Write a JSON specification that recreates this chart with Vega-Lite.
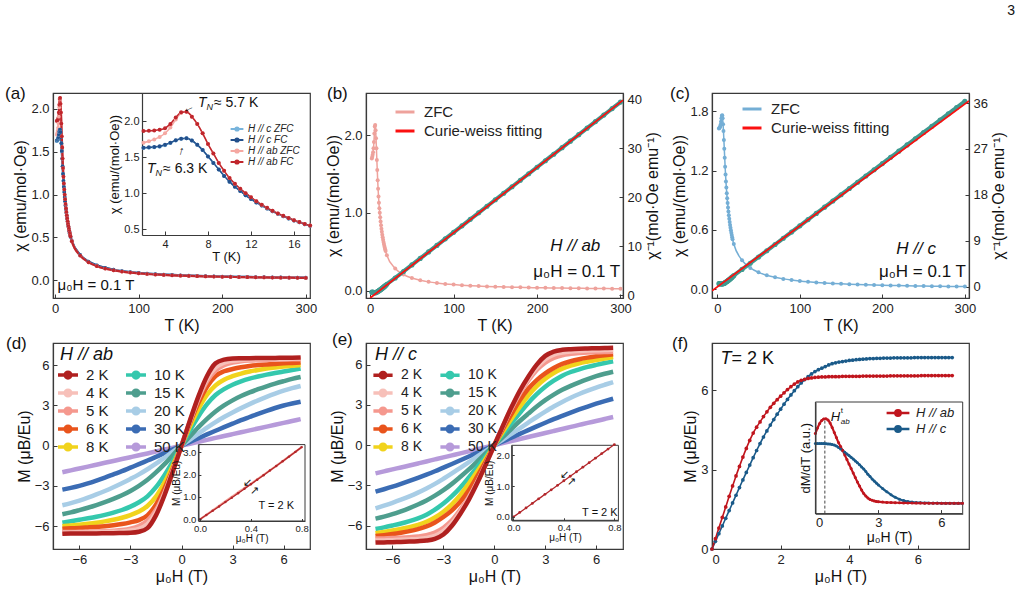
{
  "$schema": "https://vega.github.io/schema/vega-lite/v6.json",
  "background": "white",
  "padding": {"left": 4, "top": 4, "right": 4, "bottom": 2},
  "title": {"text": "3", "anchor": "end", "fontSize": 14, "fontWeight": "normal", "offset": 66, "dx": 8},
  "config": {
    "font": "Liberation Sans",
    "view": {"stroke": "#3a3a3a", "strokeWidth": 1.2},
    "axis": {"grid": false, "domainColor": "#3a3a3a", "domainWidth": 1.2, "tickColor": "#3a3a3a", "tickSize": -4, "labelFontSize": 13, "labelColor": "#222", "titleFontSize": 16, "titleFontWeight": "normal", "titleColor": "#111", "labelPadding": 8, "titlePadding": 2},
    "legend": {"labelColor": "#222", "titleFontWeight": "normal"},
    "title": {"fontSize": 17, "fontWeight": "normal", "color": "#111"},
    "text": {"color": "#111"},
    "line": {"interpolate": "monotone"}
  },
  "datasets": {
    "chi": [
      {"T": 2, "H // ab ZFC": 1.70, "H // ab FC": 1.86, "H // c ZFC": 1.625, "H // c FC": 1.63, "abInv": 0.588, "cInv": 0.615},
      {"T": 2.5, "H // ab ZFC": 1.72, "H // ab FC": 1.865, "H // c ZFC": 1.63, "H // c FC": 1.635, "abInv": 0.581, "cInv": 0.613},
      {"T": 3, "H // ab ZFC": 1.745, "H // ab FC": 1.87, "H // c ZFC": 1.635, "H // c FC": 1.64, "abInv": 0.573, "cInv": 0.612},
      {"T": 3.5, "H // ab ZFC": 1.78, "H // ab FC": 1.88, "H // c ZFC": 1.645, "H // c FC": 1.65, "abInv": 0.562, "cInv": 0.608},
      {"T": 4, "H // ab ZFC": 1.83, "H // ab FC": 1.90, "H // c ZFC": 1.665, "H // c FC": 1.67, "abInv": 0.546, "cInv": 0.601},
      {"T": 4.5, "H // ab ZFC": 1.91, "H // ab FC": 1.96, "H // c ZFC": 1.695, "H // c FC": 1.70, "abInv": 0.524, "cInv": 0.590},
      {"T": 5, "H // ab ZFC": 2.02, "H // ab FC": 2.05, "H // c ZFC": 1.73, "H // c FC": 1.735, "abInv": 0.495, "cInv": 0.578},
      {"T": 5.5, "H // ab ZFC": 2.11, "H // ab FC": 2.12, "H // c ZFC": 1.755, "H // c FC": 1.755, "abInv": 0.474, "cInv": 0.570},
      {"T": 6, "H // ab ZFC": 2.13, "H // ab FC": 2.13, "H // c ZFC": 1.76, "H // c FC": 1.76, "abInv": 0.469, "cInv": 0.568},
      {"T": 6.5, "H // ab ZFC": 2.06, "H // ab FC": 2.06, "H // c ZFC": 1.73, "H // c FC": 1.73, "abInv": 0.485, "cInv": 0.578},
      {"T": 7, "H // ab ZFC": 1.96, "H // ab FC": 1.96, "H // c ZFC": 1.67, "H // c FC": 1.67, "abInv": 0.510, "cInv": 0.599},
      {"T": 7.5, "H // ab ZFC": 1.83, "H // ab FC": 1.83, "H // c ZFC": 1.60, "H // c FC": 1.60, "abInv": 0.546, "cInv": 0.625},
      {"T": 8, "H // ab ZFC": 1.68, "H // ab FC": 1.68, "H // c ZFC": 1.51, "H // c FC": 1.51, "abInv": 0.595, "cInv": 0.662},
      {"T": 8.5, "H // ab ZFC": 1.55, "H // ab FC": 1.55, "H // c ZFC": 1.42, "H // c FC": 1.42, "abInv": 0.645, "cInv": 0.704},
      {"T": 9, "H // ab ZFC": 1.42, "H // ab FC": 1.42, "H // c ZFC": 1.33, "H // c FC": 1.33, "abInv": 0.704, "cInv": 0.752},
      {"T": 9.5, "H // ab ZFC": 1.31, "H // ab FC": 1.31, "H // c ZFC": 1.24, "H // c FC": 1.24, "abInv": 0.763, "cInv": 0.806},
      {"T": 10, "H // ab ZFC": 1.21, "H // ab FC": 1.21, "H // c ZFC": 1.16, "H // c FC": 1.16, "abInv": 0.826, "cInv": 0.862},
      {"T": 10.5, "H // ab ZFC": 1.13, "H // ab FC": 1.13, "H // c ZFC": 1.09, "H // c FC": 1.09, "abInv": 0.885, "cInv": 0.917},
      {"T": 11, "H // ab ZFC": 1.06, "H // ab FC": 1.06, "H // c ZFC": 1.03, "H // c FC": 1.03, "abInv": 0.943, "cInv": 0.971},
      {"T": 11.5, "H // ab ZFC": 1.00, "H // ab FC": 1.00, "H // c ZFC": 0.97, "H // c FC": 0.97, "abInv": 1.000, "cInv": 1.031},
      {"T": 12, "H // ab ZFC": 0.945, "H // ab FC": 0.945, "H // c ZFC": 0.92, "H // c FC": 0.92, "abInv": 1.058, "cInv": 1.087},
      {"T": 12.5, "H // ab ZFC": 0.89, "H // ab FC": 0.89, "H // c ZFC": 0.872, "H // c FC": 0.872, "abInv": 1.124, "cInv": 1.147},
      {"T": 13, "H // ab ZFC": 0.84, "H // ab FC": 0.84, "H // c ZFC": 0.828, "H // c FC": 0.828, "abInv": 1.190, "cInv": 1.208},
      {"T": 13.5, "H // ab ZFC": 0.797, "H // ab FC": 0.797, "H // c ZFC": 0.787, "H // c FC": 0.787, "abInv": 1.255, "cInv": 1.271},
      {"T": 14, "H // ab ZFC": 0.757, "H // ab FC": 0.757, "H // c ZFC": 0.749, "H // c FC": 0.749, "abInv": 1.321, "cInv": 1.335},
      {"T": 14.5, "H // ab ZFC": 0.72, "H // ab FC": 0.72, "H // c ZFC": 0.714, "H // c FC": 0.714, "abInv": 1.389, "cInv": 1.401},
      {"T": 15, "H // ab ZFC": 0.687, "H // ab FC": 0.687, "H // c ZFC": 0.681, "H // c FC": 0.681, "abInv": 1.456, "cInv": 1.468},
      {"T": 15.5, "H // ab ZFC": 0.656, "H // ab FC": 0.656, "H // c ZFC": 0.651, "H // c FC": 0.651, "abInv": 1.524, "cInv": 1.536},
      {"T": 16, "H // ab ZFC": 0.627, "H // ab FC": 0.627, "H // c ZFC": 0.622, "H // c FC": 0.622, "abInv": 1.595, "cInv": 1.608},
      {"T": 16.5, "H // ab ZFC": 0.60, "H // ab FC": 0.60, "H // c ZFC": 0.596, "H // c FC": 0.596, "abInv": 1.667, "cInv": 1.678},
      {"T": 17, "H // ab ZFC": 0.575, "H // ab FC": 0.575, "H // c ZFC": 0.571, "H // c FC": 0.571, "abInv": 1.739, "cInv": 1.751},
      {"T": 17.5, "H // ab ZFC": 0.552, "H // ab FC": 0.552, "H // c ZFC": 0.548, "H // c FC": 0.548, "abInv": 1.812, "cInv": 1.825},
      {"T": 18, "H // ab ZFC": 0.53, "H // ab FC": 0.53, "H // c ZFC": 0.527, "H // c FC": 0.527, "abInv": 1.887, "cInv": 1.898},
      {"T": 18.5, "H // ab ZFC": 0.51, "H // ab FC": 0.51, "H // c ZFC": 0.507, "H // c FC": 0.507, "abInv": 1.961, "cInv": 1.972},
      {"T": 20, "H // ab ZFC": 0.455, "H // ab FC": 0.455, "H // c ZFC": 0.458, "H // c FC": 0.458, "abInv": 2.198, "cInv": 2.183},
      {"T": 30, "H // ab ZFC": 0.2863, "H // ab FC": 0.2863, "H // c ZFC": 0.2939, "H // c FC": 0.2939, "abInv": 3.493, "cInv": 3.402},
      {"T": 40, "H // ab ZFC": 0.2072, "H // ab FC": 0.2072, "H // c ZFC": 0.2164, "H // c FC": 0.2164, "abInv": 4.827, "cInv": 4.622},
      {"T": 50, "H // ab ZFC": 0.1623, "H // ab FC": 0.1623, "H // c ZFC": 0.1712, "H // c FC": 0.1712, "abInv": 6.160, "cInv": 5.841},
      {"T": 60, "H // ab ZFC": 0.1335, "H // ab FC": 0.1335, "H // c ZFC": 0.1416, "H // c FC": 0.1416, "abInv": 7.493, "cInv": 7.061},
      {"T": 70, "H // ab ZFC": 0.1133, "H // ab FC": 0.1133, "H // c ZFC": 0.1208, "H // c FC": 0.1208, "abInv": 8.827, "cInv": 8.280},
      {"T": 80, "H // ab ZFC": 0.0984, "H // ab FC": 0.0984, "H // c ZFC": 0.1053, "H // c FC": 0.1053, "abInv": 10.160, "cInv": 9.500},
      {"T": 90, "H // ab ZFC": 0.0870, "H // ab FC": 0.0870, "H // c ZFC": 0.0933, "H // c FC": 0.0933, "abInv": 11.493, "cInv": 10.720},
      {"T": 100, "H // ab ZFC": 0.0780, "H // ab FC": 0.0780, "H // c ZFC": 0.0838, "H // c FC": 0.0838, "abInv": 12.827, "cInv": 11.939},
      {"T": 110, "H // ab ZFC": 0.0706, "H // ab FC": 0.0706, "H // c ZFC": 0.0760, "H // c FC": 0.0760, "abInv": 14.160, "cInv": 13.159},
      {"T": 120, "H // ab ZFC": 0.0645, "H // ab FC": 0.0645, "H // c ZFC": 0.0696, "H // c FC": 0.0696, "abInv": 15.493, "cInv": 14.378},
      {"T": 130, "H // ab ZFC": 0.0594, "H // ab FC": 0.0594, "H // c ZFC": 0.0641, "H // c FC": 0.0641, "abInv": 16.827, "cInv": 15.598},
      {"T": 140, "H // ab ZFC": 0.0551, "H // ab FC": 0.0551, "H // c ZFC": 0.0595, "H // c FC": 0.0595, "abInv": 18.160, "cInv": 16.817},
      {"T": 150, "H // ab ZFC": 0.0513, "H // ab FC": 0.0513, "H // c ZFC": 0.0554, "H // c FC": 0.0554, "abInv": 19.493, "cInv": 18.037},
      {"T": 160, "H // ab ZFC": 0.0480, "H // ab FC": 0.0480, "H // c ZFC": 0.0519, "H // c FC": 0.0519, "abInv": 20.827, "cInv": 19.256},
      {"T": 170, "H // ab ZFC": 0.0451, "H // ab FC": 0.0451, "H // c ZFC": 0.0488, "H // c FC": 0.0488, "abInv": 22.160, "cInv": 20.476},
      {"T": 180, "H // ab ZFC": 0.0426, "H // ab FC": 0.0426, "H // c ZFC": 0.0461, "H // c FC": 0.0461, "abInv": 23.493, "cInv": 21.695},
      {"T": 190, "H // ab ZFC": 0.0403, "H // ab FC": 0.0403, "H // c ZFC": 0.0436, "H // c FC": 0.0436, "abInv": 24.827, "cInv": 22.915},
      {"T": 200, "H // ab ZFC": 0.0382, "H // ab FC": 0.0382, "H // c ZFC": 0.0414, "H // c FC": 0.0414, "abInv": 26.160, "cInv": 24.134},
      {"T": 210, "H // ab ZFC": 0.0364, "H // ab FC": 0.0364, "H // c ZFC": 0.0394, "H // c FC": 0.0394, "abInv": 27.493, "cInv": 25.354},
      {"T": 220, "H // ab ZFC": 0.0347, "H // ab FC": 0.0347, "H // c ZFC": 0.0376, "H // c FC": 0.0376, "abInv": 28.827, "cInv": 26.573},
      {"T": 230, "H // ab ZFC": 0.0332, "H // ab FC": 0.0332, "H // c ZFC": 0.0360, "H // c FC": 0.0360, "abInv": 30.160, "cInv": 27.793},
      {"T": 240, "H // ab ZFC": 0.0318, "H // ab FC": 0.0318, "H // c ZFC": 0.0345, "H // c FC": 0.0345, "abInv": 31.493, "cInv": 29.012},
      {"T": 250, "H // ab ZFC": 0.0305, "H // ab FC": 0.0305, "H // c ZFC": 0.0331, "H // c FC": 0.0331, "abInv": 32.827, "cInv": 30.232},
      {"T": 260, "H // ab ZFC": 0.0293, "H // ab FC": 0.0293, "H // c ZFC": 0.0318, "H // c FC": 0.0318, "abInv": 34.160, "cInv": 31.451},
      {"T": 270, "H // ab ZFC": 0.0282, "H // ab FC": 0.0282, "H // c ZFC": 0.0306, "H // c FC": 0.0306, "abInv": 35.493, "cInv": 32.671},
      {"T": 280, "H // ab ZFC": 0.0272, "H // ab FC": 0.0272, "H // c ZFC": 0.0295, "H // c FC": 0.0295, "abInv": 36.827, "cInv": 33.890},
      {"T": 290, "H // ab ZFC": 0.0262, "H // ab FC": 0.0262, "H // c ZFC": 0.0285, "H // c FC": 0.0285, "abInv": 38.160, "cInv": 35.110},
      {"T": 300, "H // ab ZFC": 0.0253, "H // ab FC": 0.0253, "H // c ZFC": 0.0275, "H // c FC": 0.0275, "abInv": 39.493, "cInv": 36.329}
    ],
    "fitb": [{"T": 0, "abInv": -0.61}, {"T": 303, "abInv": 39.9}],
    "fitc": [{"T": -6.4, "cInv": -0.78}, {"T": 305, "cInv": 36.4}],
    "md": [
      {"H": -7, "2 K": -6.57, "4 K": -6.5, "5 K": -6.45, "6 K": -6.2, "8 K": -6.01, "10 K": -5.75, "15 K": -5.12, "20 K": -4.45, "30 K": -3.28, "50 K": -1.98},
      {"H": -6.5, "2 K": -6.56, "4 K": -6.49, "5 K": -6.44, "6 K": -6.17, "8 K": -5.96, "10 K": -5.64, "15 K": -4.98, "20 K": -4.29, "30 K": -3.15, "50 K": -1.84},
      {"H": -6, "2 K": -6.56, "4 K": -6.48, "5 K": -6.43, "6 K": -6.14, "8 K": -5.9, "10 K": -5.53, "15 K": -4.81, "20 K": -4.1, "30 K": -3.0, "50 K": -1.7},
      {"H": -5.5, "2 K": -6.55, "4 K": -6.47, "5 K": -6.42, "6 K": -6.1, "8 K": -5.83, "10 K": -5.42, "15 K": -4.63, "20 K": -3.88, "30 K": -2.81, "50 K": -1.56},
      {"H": -5, "2 K": -6.55, "4 K": -6.46, "5 K": -6.4, "6 K": -6.06, "8 K": -5.75, "10 K": -5.3, "15 K": -4.43, "20 K": -3.64, "30 K": -2.6, "50 K": -1.42},
      {"H": -4.5, "2 K": -6.54, "4 K": -6.45, "5 K": -6.38, "6 K": -6.01, "8 K": -5.65, "10 K": -5.16, "15 K": -4.21, "20 K": -3.38, "30 K": -2.38, "50 K": -1.28},
      {"H": -4, "2 K": -6.53, "4 K": -6.43, "5 K": -6.35, "6 K": -5.94, "8 K": -5.53, "10 K": -5.0, "15 K": -3.97, "20 K": -3.1, "30 K": -2.14, "50 K": -1.14},
      {"H": -3.5, "2 K": -6.52, "4 K": -6.4, "5 K": -6.3, "6 K": -5.85, "8 K": -5.38, "10 K": -4.8, "15 K": -3.7, "20 K": -2.8, "30 K": -1.9, "50 K": -1.0},
      {"H": -3, "2 K": -6.5, "4 K": -6.33, "5 K": -6.2, "6 K": -5.72, "8 K": -5.18, "10 K": -4.55, "15 K": -3.38, "20 K": -2.48, "30 K": -1.64, "50 K": -0.86},
      {"H": -2.5, "2 K": -6.42, "4 K": -6.2, "5 K": -6.0, "6 K": -5.55, "8 K": -4.92, "10 K": -4.22, "15 K": -3.0, "20 K": -2.14, "30 K": -1.38, "50 K": -0.72},
      {"H": -2, "2 K": -6.15, "4 K": -5.85, "5 K": -5.6, "6 K": -5.2, "8 K": -4.5, "10 K": -3.78, "15 K": -2.55, "20 K": -1.76, "30 K": -1.11, "50 K": -0.58},
      {"H": -1.5, "2 K": -5.2, "4 K": -5.0, "5 K": -4.8, "6 K": -4.4, "8 K": -3.8, "10 K": -3.1, "15 K": -2.0, "20 K": -1.34, "30 K": -0.84, "50 K": -0.435},
      {"H": -1, "2 K": -3.7, "4 K": -3.6, "5 K": -3.5, "6 K": -3.2, "8 K": -2.75, "10 K": -2.2, "15 K": -1.38, "20 K": -0.9, "30 K": -0.56, "50 K": -0.29},
      {"H": -0.5, "2 K": -1.9, "4 K": -1.85, "5 K": -1.82, "6 K": -1.7, "8 K": -1.45, "10 K": -1.15, "15 K": -0.7, "20 K": -0.45, "30 K": -0.28, "50 K": -0.145},
      {"H": 0, "2 K": 0, "4 K": 0, "5 K": 0, "6 K": 0, "8 K": 0, "10 K": 0, "15 K": 0, "20 K": 0, "30 K": 0, "50 K": 0},
      {"H": 0.5, "2 K": 1.9, "4 K": 1.85, "5 K": 1.82, "6 K": 1.7, "8 K": 1.45, "10 K": 1.15, "15 K": 0.7, "20 K": 0.45, "30 K": 0.28, "50 K": 0.145},
      {"H": 1, "2 K": 3.7, "4 K": 3.6, "5 K": 3.5, "6 K": 3.2, "8 K": 2.75, "10 K": 2.2, "15 K": 1.38, "20 K": 0.9, "30 K": 0.56, "50 K": 0.29},
      {"H": 1.5, "2 K": 5.2, "4 K": 5.0, "5 K": 4.8, "6 K": 4.4, "8 K": 3.8, "10 K": 3.1, "15 K": 2.0, "20 K": 1.34, "30 K": 0.84, "50 K": 0.435},
      {"H": 2, "2 K": 6.15, "4 K": 5.85, "5 K": 5.6, "6 K": 5.2, "8 K": 4.5, "10 K": 3.78, "15 K": 2.55, "20 K": 1.76, "30 K": 1.11, "50 K": 0.58},
      {"H": 2.5, "2 K": 6.42, "4 K": 6.2, "5 K": 6.0, "6 K": 5.55, "8 K": 4.92, "10 K": 4.22, "15 K": 3.0, "20 K": 2.14, "30 K": 1.38, "50 K": 0.72},
      {"H": 3, "2 K": 6.5, "4 K": 6.33, "5 K": 6.2, "6 K": 5.72, "8 K": 5.18, "10 K": 4.55, "15 K": 3.38, "20 K": 2.48, "30 K": 1.64, "50 K": 0.86},
      {"H": 3.5, "2 K": 6.52, "4 K": 6.4, "5 K": 6.3, "6 K": 5.85, "8 K": 5.38, "10 K": 4.8, "15 K": 3.7, "20 K": 2.8, "30 K": 1.9, "50 K": 1.0},
      {"H": 4, "2 K": 6.53, "4 K": 6.43, "5 K": 6.35, "6 K": 5.94, "8 K": 5.53, "10 K": 5.0, "15 K": 3.97, "20 K": 3.1, "30 K": 2.14, "50 K": 1.14},
      {"H": 4.5, "2 K": 6.54, "4 K": 6.45, "5 K": 6.38, "6 K": 6.01, "8 K": 5.65, "10 K": 5.16, "15 K": 4.21, "20 K": 3.38, "30 K": 2.38, "50 K": 1.28},
      {"H": 5, "2 K": 6.55, "4 K": 6.46, "5 K": 6.4, "6 K": 6.06, "8 K": 5.75, "10 K": 5.3, "15 K": 4.43, "20 K": 3.64, "30 K": 2.6, "50 K": 1.42},
      {"H": 5.5, "2 K": 6.55, "4 K": 6.47, "5 K": 6.42, "6 K": 6.1, "8 K": 5.83, "10 K": 5.42, "15 K": 4.63, "20 K": 3.88, "30 K": 2.81, "50 K": 1.56},
      {"H": 6, "2 K": 6.56, "4 K": 6.48, "5 K": 6.43, "6 K": 6.14, "8 K": 5.9, "10 K": 5.53, "15 K": 4.81, "20 K": 4.1, "30 K": 3.0, "50 K": 1.7},
      {"H": 6.5, "2 K": 6.56, "4 K": 6.49, "5 K": 6.44, "6 K": 6.17, "8 K": 5.96, "10 K": 5.64, "15 K": 4.98, "20 K": 4.29, "30 K": 3.15, "50 K": 1.84},
      {"H": 7, "2 K": 6.57, "4 K": 6.5, "5 K": 6.45, "6 K": 6.2, "8 K": 6.01, "10 K": 5.75, "15 K": 5.12, "20 K": 4.45, "30 K": 3.28, "50 K": 1.98}
    ],
    "me": [
      {"H": -7, "2 K": -7.25, "4 K": -7.1, "5 K": -6.95, "6 K": -6.77, "8 K": -6.56, "10 K": -6.24, "15 K": -5.47, "20 K": -4.7, "30 K": -3.46, "50 K": -2.1},
      {"H": -6.5, "2 K": -7.24, "4 K": -7.09, "5 K": -6.94, "6 K": -6.7, "8 K": -6.46, "10 K": -6.12, "15 K": -5.32, "20 K": -4.5, "30 K": -3.28, "50 K": -1.95},
      {"H": -6, "2 K": -7.22, "4 K": -7.07, "5 K": -6.92, "6 K": -6.62, "8 K": -6.35, "10 K": -5.98, "15 K": -5.14, "20 K": -4.29, "30 K": -3.09, "50 K": -1.8},
      {"H": -5.5, "2 K": -7.2, "4 K": -7.05, "5 K": -6.9, "6 K": -6.52, "8 K": -6.23, "10 K": -5.83, "15 K": -4.92, "20 K": -4.06, "30 K": -2.88, "50 K": -1.66},
      {"H": -5, "2 K": -7.18, "4 K": -7.02, "5 K": -6.86, "6 K": -6.4, "8 K": -6.1, "10 K": -5.65, "15 K": -4.68, "20 K": -3.81, "30 K": -2.66, "50 K": -1.51},
      {"H": -4.5, "2 K": -7.15, "4 K": -6.98, "5 K": -6.8, "6 K": -6.25, "8 K": -5.93, "10 K": -5.45, "15 K": -4.42, "20 K": -3.53, "30 K": -2.43, "50 K": -1.36},
      {"H": -4, "2 K": -7.1, "4 K": -6.9, "5 K": -6.7, "6 K": -6.05, "8 K": -5.7, "10 K": -5.18, "15 K": -4.12, "20 K": -3.22, "30 K": -2.19, "50 K": -1.21},
      {"H": -3.5, "2 K": -6.97, "4 K": -6.75, "5 K": -6.5, "6 K": -5.75, "8 K": -5.38, "10 K": -4.8, "15 K": -3.76, "20 K": -2.88, "30 K": -1.94, "50 K": -1.06},
      {"H": -3, "2 K": -6.65, "4 K": -6.4, "5 K": -6.15, "6 K": -5.35, "8 K": -4.95, "10 K": -4.35, "15 K": -3.35, "20 K": -2.5, "30 K": -1.67, "50 K": -0.91},
      {"H": -2.5, "2 K": -6.0, "4 K": -5.8, "5 K": -5.6, "6 K": -4.85, "8 K": -4.4, "10 K": -3.8, "15 K": -2.88, "20 K": -2.1, "30 K": -1.4, "50 K": -0.76},
      {"H": -2, "2 K": -5.1, "4 K": -4.95, "5 K": -4.8, "6 K": -4.2, "8 K": -3.7, "10 K": -3.15, "15 K": -2.35, "20 K": -1.68, "30 K": -1.12, "50 K": -0.61},
      {"H": -1.5, "2 K": -4.05, "4 K": -3.95, "5 K": -3.85, "6 K": -3.35, "8 K": -2.85, "10 K": -2.4, "15 K": -1.8, "20 K": -1.26, "30 K": -0.84, "50 K": -0.458},
      {"H": -1, "2 K": -2.8, "4 K": -2.75, "5 K": -2.7, "6 K": -2.3, "8 K": -1.95, "10 K": -1.62, "15 K": -1.2, "20 K": -0.84, "30 K": -0.56, "50 K": -0.305},
      {"H": -0.5, "2 K": -1.42, "4 K": -1.4, "5 K": -1.38, "6 K": -1.2, "8 K": -1.0, "10 K": -0.82, "15 K": -0.6, "20 K": -0.42, "30 K": -0.28, "50 K": -0.153},
      {"H": 0, "2 K": 0, "4 K": 0, "5 K": 0, "6 K": 0, "8 K": 0, "10 K": 0, "15 K": 0, "20 K": 0, "30 K": 0, "50 K": 0},
      {"H": 0.5, "2 K": 1.42, "4 K": 1.4, "5 K": 1.38, "6 K": 1.2, "8 K": 1.0, "10 K": 0.82, "15 K": 0.6, "20 K": 0.42, "30 K": 0.28, "50 K": 0.153},
      {"H": 1, "2 K": 2.8, "4 K": 2.75, "5 K": 2.7, "6 K": 2.3, "8 K": 1.95, "10 K": 1.62, "15 K": 1.2, "20 K": 0.84, "30 K": 0.56, "50 K": 0.305},
      {"H": 1.5, "2 K": 4.05, "4 K": 3.95, "5 K": 3.85, "6 K": 3.35, "8 K": 2.85, "10 K": 2.4, "15 K": 1.8, "20 K": 1.26, "30 K": 0.84, "50 K": 0.458},
      {"H": 2, "2 K": 5.1, "4 K": 4.95, "5 K": 4.8, "6 K": 4.2, "8 K": 3.7, "10 K": 3.15, "15 K": 2.35, "20 K": 1.68, "30 K": 1.12, "50 K": 0.61},
      {"H": 2.5, "2 K": 6.0, "4 K": 5.8, "5 K": 5.6, "6 K": 4.85, "8 K": 4.4, "10 K": 3.8, "15 K": 2.88, "20 K": 2.1, "30 K": 1.4, "50 K": 0.76},
      {"H": 3, "2 K": 6.65, "4 K": 6.4, "5 K": 6.15, "6 K": 5.35, "8 K": 4.95, "10 K": 4.35, "15 K": 3.35, "20 K": 2.5, "30 K": 1.67, "50 K": 0.91},
      {"H": 3.5, "2 K": 6.97, "4 K": 6.75, "5 K": 6.5, "6 K": 5.75, "8 K": 5.38, "10 K": 4.8, "15 K": 3.76, "20 K": 2.88, "30 K": 1.94, "50 K": 1.06},
      {"H": 4, "2 K": 7.1, "4 K": 6.9, "5 K": 6.7, "6 K": 6.05, "8 K": 5.7, "10 K": 5.18, "15 K": 4.12, "20 K": 3.22, "30 K": 2.19, "50 K": 1.21},
      {"H": 4.5, "2 K": 7.15, "4 K": 6.98, "5 K": 6.8, "6 K": 6.25, "8 K": 5.93, "10 K": 5.45, "15 K": 4.42, "20 K": 3.53, "30 K": 2.43, "50 K": 1.36},
      {"H": 5, "2 K": 7.18, "4 K": 7.02, "5 K": 6.86, "6 K": 6.4, "8 K": 6.1, "10 K": 5.65, "15 K": 4.68, "20 K": 3.81, "30 K": 2.66, "50 K": 1.51},
      {"H": 5.5, "2 K": 7.2, "4 K": 7.05, "5 K": 6.9, "6 K": 6.52, "8 K": 6.23, "10 K": 5.83, "15 K": 4.92, "20 K": 4.06, "30 K": 2.88, "50 K": 1.66},
      {"H": 6, "2 K": 7.22, "4 K": 7.07, "5 K": 6.92, "6 K": 6.62, "8 K": 6.35, "10 K": 5.98, "15 K": 5.14, "20 K": 4.29, "30 K": 3.09, "50 K": 1.8},
      {"H": 6.5, "2 K": 7.24, "4 K": 7.09, "5 K": 6.94, "6 K": 6.7, "8 K": 6.46, "10 K": 6.12, "15 K": 5.32, "20 K": 4.5, "30 K": 3.28, "50 K": 1.95},
      {"H": 7, "2 K": 7.25, "4 K": 7.1, "5 K": 6.95, "6 K": 6.77, "8 K": 6.56, "10 K": 6.24, "15 K": 5.47, "20 K": 4.7, "30 K": 3.46, "50 K": 2.1}
    ],
    "ind": [
      {"H": 0, "up": 0, "down": 0}, {"H": 0.05, "up": 0.191, "down": 0.2}, {"H": 0.1, "up": 0.383, "down": 0.4},
      {"H": 0.15, "up": 0.577, "down": 0.6}, {"H": 0.2, "up": 0.772, "down": 0.8}, {"H": 0.25, "up": 0.969, "down": 1.0},
      {"H": 0.3, "up": 1.167, "down": 1.2}, {"H": 0.35, "up": 1.367, "down": 1.4}, {"H": 0.4, "up": 1.568, "down": 1.59},
      {"H": 0.45, "up": 1.771, "down": 1.79}, {"H": 0.5, "up": 1.975, "down": 1.99}, {"H": 0.55, "up": 2.181, "down": 2.19},
      {"H": 0.6, "up": 2.388, "down": 2.395}, {"H": 0.65, "up": 2.597, "down": 2.6}, {"H": 0.7, "up": 2.807, "down": 2.81},
      {"H": 0.75, "up": 3.019, "down": 3.02}, {"H": 0.8, "up": 3.232, "down": 3.232}
    ],
    "ine": [
      {"H": 0, "M": 0}, {"H": 0.05, "M": 0.147}, {"H": 0.1, "M": 0.294}, {"H": 0.15, "M": 0.441}, {"H": 0.2, "M": 0.588},
      {"H": 0.25, "M": 0.735}, {"H": 0.3, "M": 0.882}, {"H": 0.35, "M": 1.029}, {"H": 0.4, "M": 1.176}, {"H": 0.45, "M": 1.323},
      {"H": 0.5, "M": 1.47}, {"H": 0.55, "M": 1.617}, {"H": 0.6, "M": 1.764}, {"H": 0.65, "M": 1.911}, {"H": 0.7, "M": 2.058},
      {"H": 0.75, "M": 2.205}, {"H": 0.8, "M": 2.352}
    ],
    "fm": [
      {"H": 0, "H // ab": 0, "H // c": 0}, {"H": 0.1, "H // ab": 0.39, "H // c": 0.29}, {"H": 0.2, "H // ab": 0.79, "H // c": 0.58},
      {"H": 0.3, "H // ab": 1.19, "H // c": 0.87}, {"H": 0.4, "H // ab": 1.59, "H // c": 1.16}, {"H": 0.5, "H // ab": 1.99, "H // c": 1.45},
      {"H": 0.6, "H // ab": 2.38, "H // c": 1.74}, {"H": 0.7, "H // ab": 2.76, "H // c": 2.03}, {"H": 0.8, "H // ab": 3.12, "H // c": 2.32},
      {"H": 0.9, "H // ab": 3.47, "H // c": 2.61}, {"H": 1.0, "H // ab": 3.8, "H // c": 2.89}, {"H": 1.1, "H // ab": 4.1, "H // c": 3.17},
      {"H": 1.2, "H // ab": 4.38, "H // c": 3.45}, {"H": 1.3, "H // ab": 4.6, "H // c": 3.72}, {"H": 1.4, "H // ab": 4.8, "H // c": 3.98},
      {"H": 1.5, "H // ab": 5.0, "H // c": 4.23}, {"H": 1.6, "H // ab": 5.18, "H // c": 4.46}, {"H": 1.7, "H // ab": 5.35, "H // c": 4.68},
      {"H": 1.8, "H // ab": 5.5, "H // c": 4.89}, {"H": 1.9, "H // ab": 5.64, "H // c": 5.09}, {"H": 2.0, "H // ab": 5.77, "H // c": 5.28},
      {"H": 2.1, "H // ab": 5.9, "H // c": 5.47}, {"H": 2.2, "H // ab": 6.02, "H // c": 5.65}, {"H": 2.3, "H // ab": 6.13, "H // c": 5.82},
      {"H": 2.4, "H // ab": 6.23, "H // c": 5.98}, {"H": 2.5, "H // ab": 6.31, "H // c": 6.13}, {"H": 2.6, "H // ab": 6.37, "H // c": 6.27},
      {"H": 2.7, "H // ab": 6.41, "H // c": 6.4}, {"H": 2.8, "H // ab": 6.44, "H // c": 6.51}, {"H": 2.9, "H // ab": 6.46, "H // c": 6.61},
      {"H": 3.0, "H // ab": 6.48, "H // c": 6.7}, {"H": 3.1, "H // ab": 6.49, "H // c": 6.77}, {"H": 3.2, "H // ab": 6.5, "H // c": 6.83},
      {"H": 3.3, "H // ab": 6.5, "H // c": 6.89}, {"H": 3.4, "H // ab": 6.51, "H // c": 6.95}, {"H": 3.5, "H // ab": 6.51, "H // c": 7.0},
      {"H": 3.6, "H // ab": 6.51, "H // c": 7.03}, {"H": 3.7, "H // ab": 6.51, "H // c": 7.06}, {"H": 3.8, "H // ab": 6.52, "H // c": 7.08},
      {"H": 3.9, "H // ab": 6.52, "H // c": 7.1}, {"H": 4.0, "H // ab": 6.52, "H // c": 7.12}, {"H": 4.1, "H // ab": 6.52, "H // c": 7.13},
      {"H": 4.2, "H // ab": 6.52, "H // c": 7.15}, {"H": 4.3, "H // ab": 6.52, "H // c": 7.16}, {"H": 4.4, "H // ab": 6.53, "H // c": 7.17},
      {"H": 4.5, "H // ab": 6.53, "H // c": 7.18}, {"H": 4.6, "H // ab": 6.53, "H // c": 7.19}, {"H": 4.7, "H // ab": 6.53, "H // c": 7.19},
      {"H": 4.8, "H // ab": 6.53, "H // c": 7.2}, {"H": 4.9, "H // ab": 6.53, "H // c": 7.2}, {"H": 5.0, "H // ab": 6.53, "H // c": 7.21},
      {"H": 5.1, "H // ab": 6.53, "H // c": 7.21}, {"H": 5.2, "H // ab": 6.54, "H // c": 7.21}, {"H": 5.3, "H // ab": 6.54, "H // c": 7.22},
      {"H": 5.4, "H // ab": 6.54, "H // c": 7.22}, {"H": 5.5, "H // ab": 6.54, "H // c": 7.22}, {"H": 5.6, "H // ab": 6.54, "H // c": 7.22},
      {"H": 5.7, "H // ab": 6.54, "H // c": 7.22}, {"H": 5.8, "H // ab": 6.54, "H // c": 7.22}, {"H": 5.9, "H // ab": 6.54, "H // c": 7.23},
      {"H": 6.0, "H // ab": 6.54, "H // c": 7.23}, {"H": 6.1, "H // ab": 6.55, "H // c": 7.23}, {"H": 6.2, "H // ab": 6.55, "H // c": 7.23},
      {"H": 6.3, "H // ab": 6.55, "H // c": 7.23}, {"H": 6.4, "H // ab": 6.55, "H // c": 7.23}, {"H": 6.5, "H // ab": 6.55, "H // c": 7.23},
      {"H": 6.6, "H // ab": 6.55, "H // c": 7.23}, {"H": 6.7, "H // ab": 6.55, "H // c": 7.23}, {"H": 6.8, "H // ab": 6.55, "H // c": 7.23},
      {"H": 6.9, "H // ab": 6.55, "H // c": 7.23}, {"H": 7.0, "H // ab": 6.55, "H // c": 7.23}
    ],
    "fd": [
      {"H": 0, "H // ab": 7.0, "H // c": 6.0}, {"H": 0.1, "H // ab": 7.55, "H // c": 6.0}, {"H": 0.2, "H // ab": 8.0, "H // c": 6.0},
      {"H": 0.3, "H // ab": 8.3, "H // c": 6.0}, {"H": 0.4, "H // ab": 8.47, "H // c": 6.0}, {"H": 0.5, "H // ab": 8.48, "H // c": 5.99},
      {"H": 0.6, "H // ab": 8.35, "H // c": 5.97}, {"H": 0.7, "H // ab": 8.05, "H // c": 5.95}, {"H": 0.8, "H // ab": 7.6, "H // c": 5.9},
      {"H": 0.9, "H // ab": 7.1, "H // c": 5.85}, {"H": 1.0, "H // ab": 6.6, "H // c": 5.75}, {"H": 1.1, "H // ab": 6.1, "H // c": 5.62},
      {"H": 1.2, "H // ab": 5.7, "H // c": 5.47}, {"H": 1.3, "H // ab": 5.3, "H // c": 5.3}, {"H": 1.4, "H // ab": 4.85, "H // c": 5.13},
      {"H": 1.5, "H // ab": 4.4, "H // c": 4.97}, {"H": 1.6, "H // ab": 3.95, "H // c": 4.8}, {"H": 1.7, "H // ab": 3.5, "H // c": 4.63},
      {"H": 1.8, "H // ab": 3.05, "H // c": 4.45}, {"H": 1.9, "H // ab": 2.6, "H // c": 4.27}, {"H": 2.0, "H // ab": 2.15, "H // c": 4.08},
      {"H": 2.1, "H // ab": 1.75, "H // c": 3.88}, {"H": 2.2, "H // ab": 1.35, "H // c": 3.67}, {"H": 2.3, "H // ab": 1.0, "H // c": 3.45},
      {"H": 2.4, "H // ab": 0.75, "H // c": 3.2}, {"H": 2.5, "H // ab": 0.55, "H // c": 2.93}, {"H": 2.6, "H // ab": 0.42, "H // c": 2.7},
      {"H": 2.7, "H // ab": 0.33, "H // c": 2.47}, {"H": 2.8, "H // ab": 0.27, "H // c": 2.25}, {"H": 2.9, "H // ab": 0.22, "H // c": 2.05},
      {"H": 3.0, "H // ab": 0.19, "H // c": 1.86}, {"H": 3.2, "H // ab": 0.15, "H // c": 1.5}, {"H": 3.4, "H // ab": 0.12, "H // c": 1.18},
      {"H": 3.6, "H // ab": 0.1, "H // c": 0.88}, {"H": 3.8, "H // ab": 0.09, "H // c": 0.63}, {"H": 4.0, "H // ab": 0.08, "H // c": 0.44},
      {"H": 4.2, "H // ab": 0.07, "H // c": 0.3}, {"H": 4.4, "H // ab": 0.06, "H // c": 0.21}, {"H": 4.6, "H // ab": 0.06, "H // c": 0.15},
      {"H": 4.8, "H // ab": 0.05, "H // c": 0.11}, {"H": 5.0, "H // ab": 0.05, "H // c": 0.09}, {"H": 5.2, "H // ab": 0.04, "H // c": 0.07},
      {"H": 5.4, "H // ab": 0.04, "H // c": 0.06}, {"H": 5.6, "H // ab": 0.04, "H // c": 0.05}, {"H": 5.8, "H // ab": 0.04, "H // c": 0.05},
      {"H": 6.0, "H // ab": 0.03, "H // c": 0.04}, {"H": 6.2, "H // ab": 0.03, "H // c": 0.04}, {"H": 6.4, "H // ab": 0.03, "H // c": 0.04},
      {"H": 6.6, "H // ab": 0.03, "H // c": 0.03}, {"H": 6.8, "H // ab": 0.03, "H // c": 0.03}, {"H": 7.0, "H // ab": 0.03, "H // c": 0.03}
    ]
  },
  "columns": 3,
  "align": "each",
  "spacing": {"row": -4, "column": 7},
  "resolve": {"scale": {"x": "independent", "y": "independent", "color": "independent"}},
  "concat": [
    {
      "width": 257, "height": 205,
      "title": {"text": "(a)", "anchor": "start", "frame": "group", "dx": -48, "dy": 18, "offset": 0, "baseline": "middle"},
      "resolve": {"scale": {"x": "independent", "y": "independent"}},
      "layer": [
        {"layer": [
          {"data": {"name": "chi"},
           "transform": [{"fold": ["H // c ZFC", "H // c FC", "H // ab ZFC", "H // ab FC"], "as": ["series", "chi"]}],
           "mark": {"type": "line", "strokeWidth": 2.2, "point": {"filled": true, "size": 14}},
           "encoding": {
             "x": {"field": "T", "type": "quantitative", "scale": {"domain": [-2.5, 305], "nice": false, "zero": false}, "axis": {"values": [0, 100, 200, 300], "title": "T (K)"}},
             "y": {"field": "chi", "type": "quantitative", "scale": {"domain": [-0.21, 2.187], "nice": false, "zero": false}, "axis": {"values": [0, 0.5, 1, 1.5, 2], "format": ".1f", "title": "χ (emu/mol·Oe)"}},
             "color": {"field": "series", "type": "nominal",
               "scale": {"domain": ["H // c ZFC", "H // c FC", "H // ab ZFC", "H // ab FC"], "range": ["#78b4dc", "#23508c", "#f5a8a2", "#c0262c"]},
               "legend": {"title": null, "orient": "none", "legendX": 179, "legendY": 31, "labelFontSize": 10, "labelFontStyle": "italic", "symbolType": "M-1.6,0L1.6,0M-0.4,0A0.4,0.4 0 1,0 0.4,0A0.4,0.4 0 1,0 -0.4,0", "symbolSize": 64, "symbolStrokeWidth": 2, "rowPadding": -1, "labelOffset": 6}}
           }},
          {"data": {"values": [{}]}, "mark": {"type": "text", "align": "left", "baseline": "middle", "fontSize": 15},
           "encoding": {"x": {"datum": 3}, "y": {"datum": -0.06}, "text": {"value": "μ₀H = 0.1 T"}}}
        ]},
        {"layer": [
          {"data": {"name": "chi"},
           "transform": [{"filter": "datum.T <= 17.5"}, {"fold": ["H // c ZFC", "H // c FC", "H // ab ZFC", "H // ab FC"], "as": ["series", "chi"]}],
           "mark": {"type": "line", "strokeWidth": 1.5, "point": {"filled": true, "size": 16}},
           "encoding": {
             "x": {"field": "T", "type": "quantitative", "scale": {"domain": [1.86, 17.49], "range": [89, 257], "nice": false, "zero": false}, "axis": {"orient": "bottom", "offset": -63, "values": [4, 8, 12, 16], "title": "T (K)", "labelFontSize": 11, "titleFontSize": 13, "labelPadding": 7, "titlePadding": 1}},
             "y": {"field": "chi", "type": "quantitative", "scale": {"domain": [0.421, 2.388], "range": [142, 0], "nice": false, "zero": false}, "axis": {"orient": "left", "offset": -89, "values": [0.5, 1, 1.5, 2], "format": ".1f", "title": "χ (emu/(mol·Oe))", "labelFontSize": 11, "titleFontSize": 13, "labelPadding": 7, "titlePadding": 2}},
             "color": {"field": "series", "type": "nominal"}
           }},
          {"data": {"values": [{"T": 7.07, "chi": 2.256}, {"T": 2.33, "chi": 1.342}]},
           "mark": {"type": "text", "align": "left", "baseline": "middle", "fontSize": 14, "fontStyle": "italic"},
           "encoding": {"x": {"field": "T", "type": "quantitative"}, "y": {"field": "chi", "type": "quantitative"}, "text": {"value": "T"}}},
          {"data": {"values": [{"T": 7.07, "chi": 2.256}, {"T": 2.33, "chi": 1.342}]},
           "mark": {"type": "text", "align": "left", "baseline": "middle", "fontSize": 9, "fontStyle": "italic", "dx": 8.5, "dy": 4},
           "encoding": {"x": {"field": "T", "type": "quantitative"}, "y": {"field": "chi", "type": "quantitative"}, "text": {"value": "N"}}},
          {"data": {"values": [{"T": 7.07, "chi": 2.256, "label": "≈ 5.7 K"}, {"T": 2.33, "chi": 1.342, "label": "≈ 6.3 K"}]},
           "mark": {"type": "text", "align": "left", "baseline": "middle", "fontSize": 14, "dx": 16},
           "encoding": {"x": {"field": "T", "type": "quantitative"}, "y": {"field": "chi", "type": "quantitative"}, "text": {"field": "label"}}},
          {"data": {"values": [{}]}, "mark": {"type": "text", "align": "center", "baseline": "middle", "fontSize": 12, "angle": -25},
           "encoding": {"x": {"datum": 6.14}, "y": {"datum": 2.19}, "text": {"value": "←"}}},
          {"data": {"values": [{}]}, "mark": {"type": "text", "align": "center", "baseline": "middle", "fontSize": 12, "angle": 15},
           "encoding": {"x": {"datum": 5.53}, "y": {"datum": 1.59}, "text": {"value": "↑"}}}
        ]}
      ]
    },
    {
      "width": 257, "height": 205,
      "title": {"text": "(b)", "anchor": "start", "frame": "group", "dx": -39, "dy": 18, "offset": 0, "baseline": "middle"},
      "resolve": {"scale": {"y": "independent"}},
      "layer": [
        {"layer": [
          {"data": {"name": "chi"},
           "mark": {"type": "line", "strokeWidth": 1.5, "point": {"filled": true, "size": 16}},
           "encoding": {
             "x": {"field": "T", "type": "quantitative", "scale": {"domain": [-5, 303], "nice": false, "zero": false}, "axis": {"values": [0, 100, 200, 300], "title": "T (K)"}},
             "y": {"field": "H // ab ZFC", "type": "quantitative", "scale": {"domain": [-0.094, 2.54], "nice": false, "zero": false}, "axis": {"orient": "left", "values": [0, 1, 2], "title": "χ (emu/(mol·Oe))"}},
             "color": {"datum": "ZFC", "type": "nominal",
               "scale": {"domain": ["ZFC", "Curie-weiss fitting"], "range": ["#eea29c", "#fb1010"]},
               "legend": {"title": null, "orient": "none", "legendX": 28, "legendY": 8, "labelFontSize": 15, "symbolType": "stroke", "symbolSize": 360, "symbolStrokeWidth": 3, "rowPadding": 0, "labelOffset": 8}}
           }},
          {"data": {"values": [{}]}, "mark": {"type": "text", "align": "right", "baseline": "middle", "fontSize": 17, "fontStyle": "italic"},
           "encoding": {"x": {"datum": 275.8}, "y": {"datum": 0.568}, "text": {"value": "H // ab"}}},
          {"data": {"values": [{}]}, "mark": {"type": "text", "align": "right", "baseline": "middle", "fontSize": 17},
           "encoding": {"x": {"datum": 299.7}, "y": {"datum": 0.234}, "text": {"value": "μ₀H = 0.1 T"}}}
        ]},
        {"layer": [
          {"data": {"name": "chi"},
           "mark": {"type": "line", "color": "#3e9a90", "strokeWidth": 4, "point": {"filled": true, "size": 26, "color": "#3e9a90"}},
           "encoding": {
             "x": {"field": "T", "type": "quantitative", "scale": {"domain": [-5, 303], "nice": false, "zero": false}},
             "y": {"field": "abInv", "type": "quantitative", "scale": {"domain": [-0.61, 41.35], "nice": false, "zero": false}, "axis": {"orient": "right", "values": [0, 10, 20, 30, 40], "title": "χ⁻¹(mol·Oe emu⁻¹)", "titleAngle": 270, "titleBaseline": "top", "titlePadding": 3}}
           }},
          {"data": {"name": "fitb"},
           "mark": {"type": "line", "strokeWidth": 1.8, "clip": true},
           "encoding": {
             "x": {"field": "T", "type": "quantitative", "scale": {"domain": [-5, 303], "nice": false, "zero": false}},
             "y": {"field": "abInv", "type": "quantitative"},
             "color": {"datum": "Curie-weiss fitting", "type": "nominal"}
           }}
        ]}
      ]
    },
    {
      "width": 257, "height": 205,
      "title": {"text": "(c)", "anchor": "start", "frame": "group", "dx": -42, "dy": 18, "offset": 0, "baseline": "middle"},
      "resolve": {"scale": {"y": "independent"}},
      "layer": [
        {"layer": [
          {"data": {"name": "chi"},
           "mark": {"type": "line", "strokeWidth": 1.5, "point": {"filled": true, "size": 16}},
           "encoding": {
             "x": {"field": "T", "type": "quantitative", "scale": {"domain": [-6.4, 305], "nice": false, "zero": false}, "axis": {"values": [0, 100, 200, 300], "title": "T (K)"}},
             "y": {"field": "H // c ZFC", "type": "quantitative", "scale": {"domain": [-0.088, 1.985], "nice": false, "zero": false}, "axis": {"orient": "left", "values": [0, 0.6, 1.2, 1.8], "format": ".1f", "title": "χ (emu/(mol·Oe))"}},
             "color": {"datum": "ZFC", "type": "nominal",
               "scale": {"domain": ["ZFC", "Curie-weiss fitting"], "range": ["#74aed5", "#fb1010"]},
               "legend": {"title": null, "orient": "none", "legendX": 29, "legendY": 5, "labelFontSize": 15, "symbolType": "stroke", "symbolSize": 360, "symbolStrokeWidth": 3, "rowPadding": 0, "labelOffset": 8}}
           }},
          {"data": {"values": [{}]}, "mark": {"type": "text", "align": "right", "baseline": "middle", "fontSize": 17, "fontStyle": "italic"},
           "encoding": {"x": {"datum": 265}, "y": {"datum": 0.407}, "text": {"value": "H // c"}}},
          {"data": {"values": [{}]}, "mark": {"type": "text", "align": "right", "baseline": "middle", "fontSize": 17},
           "encoding": {"x": {"datum": 301.3}, "y": {"datum": 0.17}, "text": {"value": "μ₀H = 0.1 T"}}}
        ]},
        {"layer": [
          {"data": {"name": "chi"},
           "mark": {"type": "line", "color": "#3e9a90", "strokeWidth": 4, "point": {"filled": true, "size": 26, "color": "#3e9a90"}},
           "encoding": {
             "x": {"field": "T", "type": "quantitative", "scale": {"domain": [-6.4, 305], "nice": false, "zero": false}},
             "y": {"field": "cInv", "type": "quantitative", "scale": {"domain": [-2.2, 37.96], "nice": false, "zero": false}, "axis": {"orient": "right", "values": [0, 9, 18, 27, 36], "title": "χ⁻¹(mol·Oe emu⁻¹)", "titleAngle": 270, "titleBaseline": "top", "titlePadding": 3}}
           }},
          {"data": {"name": "fitc"},
           "mark": {"type": "line", "strokeWidth": 1.8, "clip": true},
           "encoding": {
             "x": {"field": "T", "type": "quantitative", "scale": {"domain": [-6.4, 305], "nice": false, "zero": false}},
             "y": {"field": "cInv", "type": "quantitative"},
             "color": {"datum": "Curie-weiss fitting", "type": "nominal"}
           }}
        ]}
      ]
    },
    {
      "width": 257, "height": 206,
      "title": {"text": "(d)", "anchor": "start", "frame": "group", "dx": -47, "dy": 18, "offset": 0, "baseline": "middle"},
      "resolve": {"scale": {"x": "independent", "y": "independent"}},
      "layer": [
        {"data": {"name": "md"},
         "transform": [{"fold": ["50 K", "30 K", "20 K", "15 K", "10 K", "8 K", "6 K", "5 K", "4 K", "2 K"], "as": ["temp", "M"]}],
         "mark": {"type": "line", "strokeWidth": 4.5},
         "encoding": {
           "x": {"field": "H", "type": "quantitative", "scale": {"domain": [-7.55, 7.55], "nice": false, "zero": false}, "axis": {"values": [-6, -3, 0, 3, 6], "title": "μ₀H (T)"}},
           "y": {"field": "M", "type": "quantitative", "scale": {"domain": [-7.71, 7.66], "nice": false, "zero": false}, "axis": {"values": [-6, -3, 0, 3, 6], "title": "M (μB/Eu)"}},
           "color": {"field": "temp", "type": "nominal",
             "scale": {"domain": ["2 K", "4 K", "5 K", "6 K", "8 K", "10 K", "15 K", "20 K", "30 K", "50 K"],
                       "range": ["#b0201f", "#f7c0b9", "#f5988e", "#e9541c", "#f1d31c", "#35c8ad", "#4e9e8e", "#a8cde6", "#3b6cb4", "#b69ada"]},
             "legend": {"title": "H // ab", "titleFontSize": 18, "titleFontStyle": "italic", "titleColor": "#111", "titlePadding": 3, "orient": "none", "legendX": 7, "legendY": 3, "columns": 2, "columnPadding": 10, "rowPadding": -4, "symbolType": "M-1.6,0L1.6,0M-0.45,0A0.45,0.45 0 1,0 0.45,0A0.45,0.45 0 1,0 -0.45,0", "symbolSize": 156, "symbolStrokeWidth": 3.5, "labelFontSize": 15, "labelOffset": 10}}
         }},
        {"layer": [
          {"data": {"values": [{}]}, "mark": {"type": "rect", "fill": "white", "stroke": "#3a3a3a", "strokeWidth": 1},
           "encoding": {
             "x": {"datum": -0.0126, "type": "quantitative", "scale": {"domain": [-0.0126, 0.826], "range": [145.4, 252], "nice": false, "zero": false}, "axis": {"orient": "bottom", "offset": -28, "values": [0, 0.4, 0.8], "format": ".1f", "title": "μ₀H (T)", "labelFontSize": 9.5, "titleFontSize": 10, "tickSize": -2.5, "labelPadding": 5, "titlePadding": 0, "zindex": 1}},
             "x2": {"datum": 0.826},
             "y": {"datum": -0.076, "type": "quantitative", "scale": {"domain": [-0.076, 3.345], "range": [178, 101.6], "nice": false, "zero": false}, "axis": {"orient": "left", "offset": -145.4, "values": [0, 1, 2, 3], "title": "M (μB/Eu)", "labelFontSize": 9.5, "titleFontSize": 10, "tickSize": -2.5, "labelPadding": 5, "titlePadding": 1, "zindex": 1}},
             "y2": {"datum": 3.345}
           }},
          {"data": {"name": "ind"}, "mark": {"type": "line", "color": "#f29b92", "strokeWidth": 2.2},
           "encoding": {"x": {"field": "H", "type": "quantitative"}, "y": {"field": "down", "type": "quantitative"}}},
          {"data": {"name": "ind"}, "mark": {"type": "line", "color": "#b3262a", "strokeWidth": 1.3, "point": {"filled": true, "size": 6, "color": "#b3262a"}},
           "encoding": {"x": {"field": "H", "type": "quantitative"}, "y": {"field": "up", "type": "quantitative"}}},
          {"data": {"values": [{}]}, "mark": {"type": "text", "align": "center", "baseline": "middle", "fontSize": 11},
           "encoding": {"x": {"datum": 0.37}, "y": {"datum": 1.62}, "text": {"value": "↙"}}},
          {"data": {"values": [{}]}, "mark": {"type": "text", "align": "center", "baseline": "middle", "fontSize": 11},
           "encoding": {"x": {"datum": 0.43}, "y": {"datum": 1.25}, "text": {"value": "↗"}}},
          {"data": {"values": [{}]}, "mark": {"type": "text", "align": "center", "baseline": "middle", "fontSize": 11},
           "encoding": {"x": {"datum": 0.6}, "y": {"datum": 0.58}, "text": {"value": "T = 2 K"}}}
        ]}
      ]
    },
    {
      "width": 257, "height": 206,
      "title": {"text": "(e)", "anchor": "start", "frame": "group", "dx": -34, "dy": 18, "offset": 0, "baseline": "middle"},
      "resolve": {"scale": {"x": "independent", "y": "independent"}},
      "layer": [
        {"data": {"name": "me"},
         "transform": [{"fold": ["50 K", "30 K", "20 K", "15 K", "10 K", "8 K", "6 K", "5 K", "4 K", "2 K"], "as": ["temp", "M"]}],
         "mark": {"type": "line", "strokeWidth": 4.5},
         "encoding": {
           "x": {"field": "H", "type": "quantitative", "scale": {"domain": [-7.56, 7.58], "nice": false, "zero": false}, "axis": {"values": [-6, -3, 0, 3, 6], "title": "μ₀H (T)"}},
           "y": {"field": "M", "type": "quantitative", "scale": {"domain": [-7.73, 7.61], "nice": false, "zero": false}, "axis": {"values": [-6, -3, 0, 3, 6], "title": "M (μB/Eu)"}},
           "color": {"field": "temp", "type": "nominal",
             "scale": {"domain": ["2 K", "4 K", "5 K", "6 K", "8 K", "10 K", "15 K", "20 K", "30 K", "50 K"],
                       "range": ["#b0201f", "#f7c0b9", "#f5988e", "#e9541c", "#f1d31c", "#35c8ad", "#4e9e8e", "#a8cde6", "#3b6cb4", "#b69ada"]},
             "legend": {"title": "H // c", "titleFontSize": 18, "titleFontStyle": "italic", "titleColor": "#111", "titlePadding": 3, "orient": "none", "legendX": 9, "legendY": 3, "columns": 2, "columnPadding": 10, "rowPadding": -4.5, "symbolType": "M-1.6,0L1.6,0M-0.45,0A0.45,0.45 0 1,0 0.45,0A0.45,0.45 0 1,0 -0.45,0", "symbolSize": 144, "symbolStrokeWidth": 3.5, "labelFontSize": 14, "labelOffset": 10}}
         }},
        {"layer": [
          {"data": {"values": [{}]}, "mark": {"type": "rect", "fill": "white", "stroke": "#3a3a3a", "strokeWidth": 1},
           "encoding": {
             "x": {"datum": -0.0135, "type": "quantitative", "scale": {"domain": [-0.0135, 0.832], "range": [145.7, 252.4], "nice": false, "zero": false}, "axis": {"orient": "bottom", "offset": -28.7, "values": [0, 0.4, 0.8], "format": ".1f", "title": "μ₀H (T)", "labelFontSize": 9.5, "titleFontSize": 10, "tickSize": -2.5, "labelPadding": 5, "titlePadding": 0, "zindex": 1}},
             "x2": {"datum": 0.832},
             "y": {"datum": -0.108, "type": "quantitative", "scale": {"domain": [-0.108, 2.328], "range": [177.3, 102.3], "nice": false, "zero": false}, "axis": {"orient": "left", "offset": -145.7, "values": [0, 1, 2], "title": "M (μB/Eu)", "labelFontSize": 9.5, "titleFontSize": 10, "tickSize": -2.5, "labelPadding": 5, "titlePadding": 1, "zindex": 1}},
             "y2": {"datum": 2.328}
           }},
          {"data": {"name": "ine"}, "mark": {"type": "line", "color": "#b3262a", "strokeWidth": 1.3, "point": {"filled": true, "size": 8, "color": "#b3262a"}},
           "encoding": {"x": {"field": "H", "type": "quantitative"}, "y": {"field": "M", "type": "quantitative"}}},
          {"data": {"values": [{}]}, "mark": {"type": "text", "align": "center", "baseline": "middle", "fontSize": 11},
           "encoding": {"x": {"datum": 0.405}, "y": {"datum": 1.37}, "text": {"value": "↙"}}},
          {"data": {"values": [{}]}, "mark": {"type": "text", "align": "center", "baseline": "middle", "fontSize": 11},
           "encoding": {"x": {"datum": 0.46}, "y": {"datum": 1.12}, "text": {"value": "↗"}}},
          {"data": {"values": [{}]}, "mark": {"type": "text", "align": "center", "baseline": "middle", "fontSize": 11},
           "encoding": {"x": {"datum": 0.685}, "y": {"datum": 0.12}, "text": {"value": "T = 2 K"}}}
        ]}
      ]
    },
    {
      "width": 257, "height": 206,
      "title": {"text": "(f)", "anchor": "start", "frame": "group", "dx": -40, "dy": 18, "offset": 0, "baseline": "middle"},
      "resolve": {"scale": {"x": "independent", "y": "independent"}},
      "layer": [
        {"layer": [
          {"data": {"name": "fm"},
           "transform": [{"fold": ["H // c", "H // ab"], "as": ["dir", "M"]}],
           "mark": {"type": "line", "strokeWidth": 1.6, "point": {"filled": true, "size": 14}},
           "encoding": {
             "x": {"field": "H", "type": "quantitative", "scale": {"domain": [0, 7.49], "nice": false, "zero": false}, "axis": {"values": [0, 2, 4, 6], "title": "μ₀H (T)"}},
             "y": {"field": "M", "type": "quantitative", "scale": {"domain": [0, 7.78], "nice": false, "zero": false}, "axis": {"values": [0, 3, 6], "title": "M (μB/Eu)"}},
             "color": {"field": "dir", "type": "nominal",
               "scale": {"domain": ["H // ab", "H // c"], "range": ["#c0151d", "#1a5a89"]},
               "legend": {"title": null, "orient": "none", "legendX": 178, "legendY": 62, "labelFontSize": 13, "labelFontStyle": "italic", "symbolType": "M-1.7,0L1.7,0M-0.4,0A0.4,0.4 0 1,0 0.4,0A0.4,0.4 0 1,0 -0.4,0", "symbolSize": 180, "symbolStrokeWidth": 2.5, "rowPadding": 0, "labelOffset": 10}}
           }},
          {"data": {"values": [{}]}, "mark": {"type": "text", "align": "left", "baseline": "middle", "fontSize": 18, "fontStyle": "italic"},
           "encoding": {"x": {"datum": 0.25}, "y": {"datum": 7.19}, "text": {"value": "T"}}},
          {"data": {"values": [{}]}, "mark": {"type": "text", "align": "left", "baseline": "middle", "fontSize": 18, "dx": 11},
           "encoding": {"x": {"datum": 0.25}, "y": {"datum": 7.19}, "text": {"value": " = 2 K"}}}
        ]},
        {"layer": [
          {"data": {"values": [{}]}, "mark": {"type": "rect", "fill": "white", "stroke": "#3a3a3a", "strokeWidth": 1},
           "encoding": {
             "x": {"datum": 0, "type": "quantitative", "scale": {"domain": [0, 7.01], "range": [103.4, 250.7], "nice": false, "zero": false}, "axis": {"orient": "bottom", "offset": -35.4, "values": [0, 3, 6], "title": "μ₀H (T)", "labelFontSize": 13, "titleFontSize": 14, "labelPadding": 7, "titlePadding": 1, "zindex": 1}},
             "x2": {"datum": 7.01},
             "y": {"datum": -1, "type": "quantitative", "scale": {"domain": [-1, 10.16], "range": [170.6, 59], "nice": false, "zero": false}, "axis": {"orient": "left", "offset": -103.4, "labels": false, "ticks": false, "title": "dM/dT (a.u.)", "titleFontSize": 13, "titlePadding": 3, "zindex": 1}},
             "y2": {"datum": 10.16}
           }},
          {"data": {"values": [{}]}, "mark": {"type": "rule", "strokeDash": [3, 2], "color": "#444", "strokeWidth": 1},
           "encoding": {"x": {"datum": 0.45}, "y": {"datum": -1}, "y2": {"datum": 8.5}}},
          {"data": {"name": "fd"},
           "transform": [{"fold": ["H // c", "H // ab"], "as": ["dir", "v"]}],
           "mark": {"type": "line", "strokeWidth": 2.2, "point": {"filled": true, "size": 9}},
           "encoding": {"x": {"field": "H", "type": "quantitative"}, "y": {"field": "v", "type": "quantitative"}, "color": {"field": "dir", "type": "nominal"}}},
          {"data": {"values": [{}]}, "mark": {"type": "text", "align": "left", "baseline": "middle", "fontSize": 13, "fontStyle": "italic"},
           "encoding": {"x": {"datum": 0.73}, "y": {"datum": 8.63}, "text": {"value": "H"}}},
          {"data": {"values": [{}]}, "mark": {"type": "text", "align": "left", "baseline": "middle", "fontSize": 8, "dx": 10, "dy": -6},
           "encoding": {"x": {"datum": 0.73}, "y": {"datum": 8.63}, "text": {"value": "t"}}},
          {"data": {"values": [{}]}, "mark": {"type": "text", "align": "left", "baseline": "middle", "fontSize": 8, "fontStyle": "italic", "dx": 10, "dy": 5},
           "encoding": {"x": {"datum": 0.73}, "y": {"datum": 8.63}, "text": {"value": "ab"}}}
        ]}
      ]
    }
  ]
}
